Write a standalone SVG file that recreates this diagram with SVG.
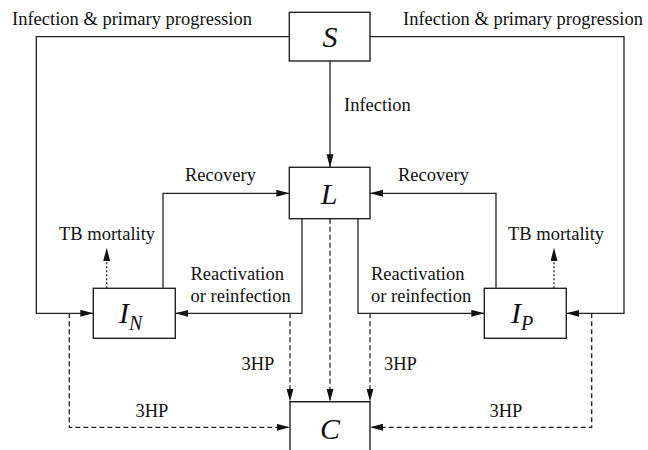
<svg xmlns="http://www.w3.org/2000/svg" width="648" height="450" viewBox="0 0 648 450" font-family="Liberation Serif, Times New Roman, DejaVu Serif, serif">
<style>
.box{fill:#fff;stroke:#222;stroke-width:1.4}
.ln{fill:none;stroke:#222;stroke-width:1.3}
.dash{stroke-dasharray:5,3}
.dot{stroke-dasharray:2,2}
.lbl{font-size:18.5px;fill:#111}
.nl{font-size:30px;font-style:italic;fill:#111}
</style>
<defs>
<marker id="ah" markerUnits="userSpaceOnUse" markerWidth="14" markerHeight="8" refX="13" refY="3.5" orient="auto">
<path d="M0,0 L13,3.5 L0,7 z" fill="#111"/>
</marker>
</defs>
<rect width="648" height="450" fill="#fff"/>
<g id="connectors">
<path class="ln" d="M289.3,36.7 H36.3 V313.3 H93.3" marker-end="url(#ah)"/>
<path class="ln" d="M370,36.7 H624 V313.3 H566.3" marker-end="url(#ah)"/>
<path class="ln" d="M330,61 V167.3" marker-end="url(#ah)"/>
<path class="ln" d="M163,288.3 V193.3 H289.3" marker-end="url(#ah)"/>
<path class="ln" d="M496,288.3 V193.3 H370" marker-end="url(#ah)"/>
<path class="ln" d="M302,218.7 V313.3 H175.3" marker-end="url(#ah)"/>
<path class="ln" d="M358,218.7 V313.3 H484.3" marker-end="url(#ah)"/>
<path class="ln dot" d="M106.7,288.3 V248" marker-end="url(#ah)"/>
<path class="ln dot" d="M554,288.3 V248" marker-end="url(#ah)"/>
<path class="ln dash" d="M69.3,313.3 V427.3 H289.7" marker-end="url(#ah)"/>
<path class="ln dash" d="M591.7,313.3 V427.3 H370" marker-end="url(#ah)"/>
<path class="ln dash" d="M290,313.3 V401.7" marker-end="url(#ah)"/>
<path class="ln dash" d="M370,313.3 V401.7" marker-end="url(#ah)"/>
<path class="ln dash" d="M330,218.7 V401.7" marker-end="url(#ah)"/>
</g>
<g id="labels">
<text class="lbl" x="12" y="25">Infection &amp; primary progression</text>
<text class="lbl" x="403" y="25">Infection &amp; primary progression</text>
<text class="lbl" x="344" y="111">Infection</text>
<text class="lbl" x="185" y="181">Recovery</text>
<text class="lbl" x="398" y="181">Recovery</text>
<text class="lbl" x="59" y="240">TB mortality</text>
<text class="lbl" x="508" y="240">TB mortality</text>
<text class="lbl" x="190.5" y="280">Reactivation</text>
<text class="lbl" x="190.5" y="302">or reinfection</text>
<text class="lbl" x="371" y="280">Reactivation</text>
<text class="lbl" x="371" y="302">or reinfection</text>
<text class="lbl" x="241.5" y="370">3HP</text>
<text class="lbl" x="384" y="370">3HP</text>
<text class="lbl" x="135.5" y="416.5">3HP</text>
<text class="lbl" x="489.5" y="416.5">3HP</text>
</g>
<g id="node-S">
<rect class="box" x="289.3" y="12.3" width="80.7" height="48.7"/>
<text class="nl" x="330" y="46.5" text-anchor="middle">S</text>
</g>
<g id="node-L">
<rect class="box" x="289.3" y="167.3" width="80.7" height="51.4"/>
<text class="nl" x="329" y="204" text-anchor="middle">L</text>
</g>
<g id="node-IN">
<rect class="box" x="93.3" y="288.3" width="82" height="50"/>
<text class="nl" x="119" y="323">I<tspan font-size="20" dy="7">N</tspan></text>
</g>
<g id="node-IP">
<rect class="box" x="484.3" y="288.3" width="82" height="50"/>
<text class="nl" x="511" y="323">I<tspan font-size="20" dy="7">P</tspan></text>
</g>
<g id="node-C">
<path class="box" d="M290,460 V401.7 H370 V460"/>
<text class="nl" x="330" y="439" text-anchor="middle">C</text>
</g>
</svg>
